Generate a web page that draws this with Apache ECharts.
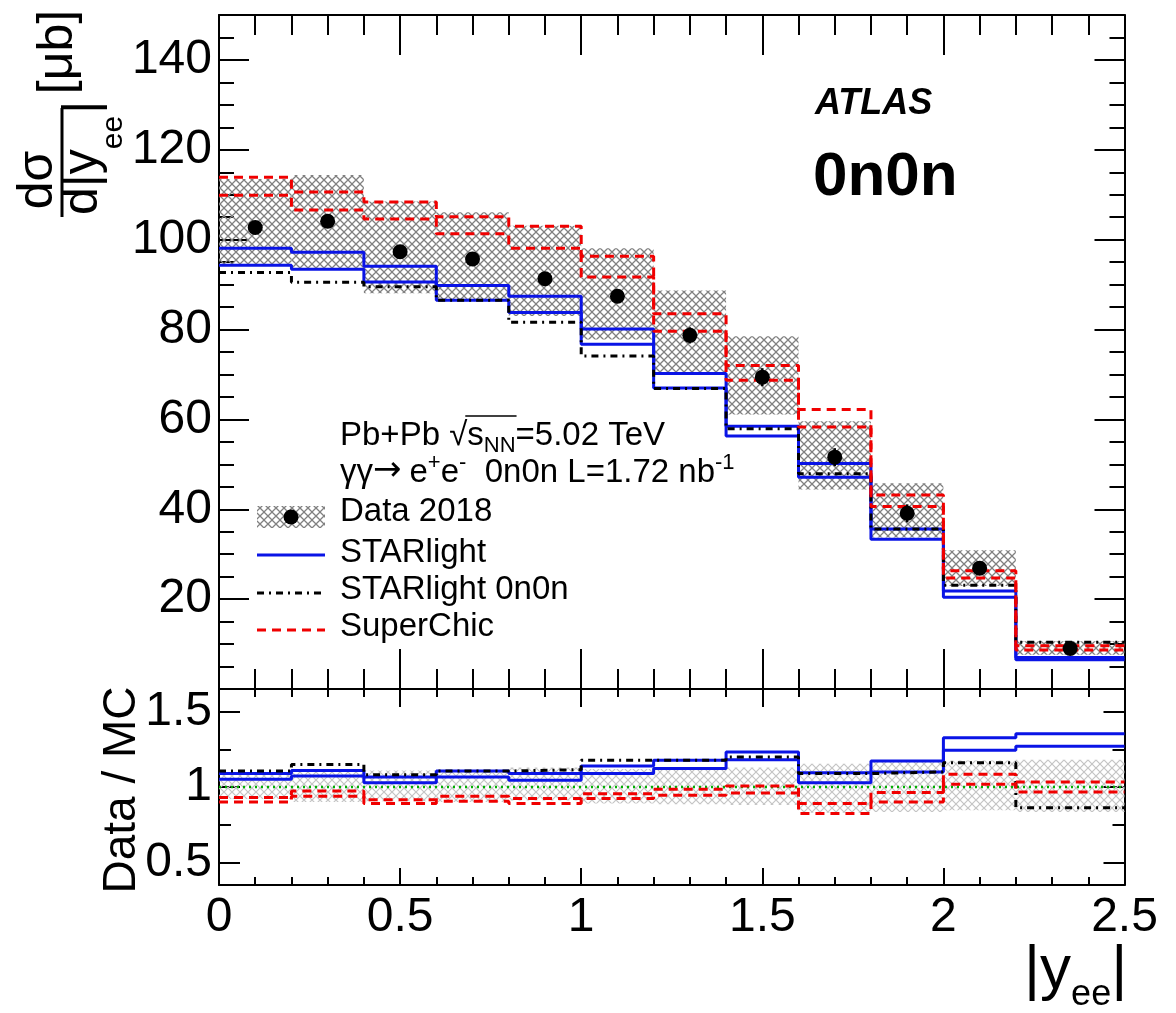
<!DOCTYPE html>
<html><head><meta charset="utf-8">
<script src="https://cdn.jsdelivr.net/npm/echarts@6/dist/echarts.min.js"></script>
<style>html,body{margin:0;padding:0;background:#fff}#c{width:1176px;height:1013px}</style>
</head><body><div id="c"></div>
<script>
const FONT = "'Liberation Sans', Arial, Helvetica, sans-serif";

// ---- data ----
const edges   = [0, 0.2, 0.4, 0.6, 0.8, 1.0, 1.2, 1.4, 1.6, 1.8, 2.0, 2.2, 2.5];
const centers = [0.1, 0.3, 0.5, 0.7, 0.9, 1.1, 1.3, 1.5, 1.7, 1.9, 2.1, 2.35];
const dataVals = [102.7, 104.1, 97.3, 95.7, 91.3, 87.4, 78.7, 69.4, 51.6, 39.1, 26.9, 9.0];
const statErr  = [0.8, 0.8, 0.8, 0.8, 0.9, 1.5, 1.8, 2.0, 2.0, 2.0, 1.2, 0.4];
const sysHi    = [113.5, 114.4, 108.5, 106.1, 103.1, 98.1, 88.7, 78.5, 59.6, 45.8, 30.9, 10.6];
const sysLo    = [94.3, 93.3, 88.1, 86.3, 83.0, 77.8, 70.4, 61.1, 44.4, 33.7, 22.9, 7.6];
const starUp   = [98.1, 97.2, 94.1, 89.8, 87.4, 80.1, 70.2, 58.5, 50.2, 35.6, 21.8, 7.0];
const starLo   = [94.3, 93.4, 90.6, 86.5, 83.8, 76.7, 67.0, 56.3, 47.1, 33.3, 20.4, 6.5];
const star0n0n = [92.7, 90.5, 89.5, 86.5, 81.6, 74.1, 66.9, 57.9, 47.9, 35.6, 23.1, 10.4];
const scUp     = [113.9, 110.6, 108.4, 105.1, 103.0, 96.3, 83.5, 72.0, 62.2, 43.2, 26.3, 9.6];
const scLo     = [109.9, 106.6, 104.6, 101.3, 98.1, 91.7, 79.6, 68.7, 58.3, 40.6, 24.7, 8.7];

// ratio panel (Data / MC)
const rBandHi  = [1.10, 1.10, 1.11, 1.11, 1.13, 1.12, 1.13, 1.13, 1.155, 1.165, 1.175, 1.18];
const rBandLo  = [0.92, 0.90, 0.905, 0.90, 0.91, 0.89, 0.885, 0.88, 0.83, 0.835, 0.845, 0.835];
const rStarUp  = [1.089, 1.11, 1.066, 1.106, 1.089, 1.139, 1.177, 1.232, 1.095, 1.172, 1.327, 1.354];
const rStarLo  = [1.051, 1.073, 1.029, 1.066, 1.044, 1.089, 1.122, 1.181, 1.029, 1.100, 1.243, 1.270];
const r0n0n    = [1.106, 1.15, 1.082, 1.106, 1.115, 1.177, 1.177, 1.199, 1.089, 1.100, 1.161, 0.863];
const rScUp    = [0.93, 0.974, 0.916, 0.938, 0.923, 0.956, 0.985, 1.007, 0.89, 0.963, 1.084, 1.033];
const rScLo    = [0.90, 0.938, 0.89, 0.905, 0.89, 0.923, 0.945, 0.96, 0.824, 0.901, 1.018, 0.967];

// tick labels
const xTickLabels = ['0', '0.5', '1', '1.5', '2', '2.5'];
const yTopLabels = [20, 40, 60, 80, 100, 120, 140];
const yTopMajor = [0, 20, 40, 60, 80, 100, 120, 140];
const yTopMinor = [5,10,15,25,30,35,45,50,55,65,70,75,85,90,95,105,110,115,125,130,135,145];
const yRatMajor = [0.5, 1, 1.5];
const yRatMinor = [0.75, 1.25];

// ---- styling helpers ----
const BLUE = '#0a14e6', RED = '#f00000', BLACK = '#000';
const mctx = document.createElement('canvas').getContext('2d');
function tw(t, s, w, st, fam) { mctx.font = (st||'normal') + ' ' + (w||'normal') + ' ' + s + 'px ' + (fam || FONT); return mctx.measureText(t).width; }
function hatchCanvas(color, size, lw) {
  const c = document.createElement('canvas'); c.width = size; c.height = size;
  const g = c.getContext('2d'); g.strokeStyle = color; g.lineWidth = lw;
  g.beginPath(); g.moveTo(-1, -1); g.lineTo(size + 1, size + 1); g.moveTo(size + 1, -1); g.lineTo(-1, size + 1); g.stroke();
  return c;
}
const hatchDark = { image: hatchCanvas('#808080', 8, 1.3), repeat: 'repeat' };
const hatchLight = { image: hatchCanvas('#c4c4c4', 8, 1.2), repeat: 'repeat' };

function stepData(vals) { return edges.map((e, i) => [e, vals[Math.min(i, vals.length - 1)]]); }
function stepLine(vals, color, type, xi, yi, z) {
  return { type: 'line', xAxisIndex: xi, yAxisIndex: yi, data: stepData(vals), step: 'end', symbol: 'none',
    lineStyle: { color, width: 3, type }, z, silent: true, clip: true };
}
function boxes(lo, hi, fill, xi, yi) {
  return { type: 'custom', xAxisIndex: xi, yAxisIndex: yi, z: 1, silent: true, clip: true,
    data: lo.map((l, i) => [edges[i], edges[i + 1], l, hi[i]]),
    encode: { x: [0, 1], y: [2, 3] },
    renderItem(params, api) {
      const p0 = api.coord([api.value(0), api.value(3)]);
      const p1 = api.coord([api.value(1), api.value(2)]);
      return { type: 'rect', shape: { x: p0[0], y: p0[1], width: p1[0] - p0[0], height: p1[1] - p0[1] }, style: { fill } };
    } };
}

const tickLS = { color: '#000', width: 2 };
function xAx(grid, pos, major, minor, labels) {
  return { type: 'value', gridIndex: grid, position: pos, min: 0, max: 2.5, interval: 0.5,
    axisLine: { show: true, onZero: false, lineStyle: { color: '#000', width: 2 } },
    axisTick: { show: true, inside: true, length: major, lineStyle: tickLS },
    minorTick: { show: true, splitNumber: 5, length: minor, lineStyle: tickLS },
    splitLine: { show: false }, minorSplitLine: { show: false },
    axisLabel: labels ? { show: true, margin: 9, fontSize: 48, fontFamily: FONT, color: '#000',
      formatter: v => xTickLabels[Math.round(v / 0.5)] } : { show: false } };
}
function yAx(grid, pos, min, max, ticks, len, labels, line) {
  return { type: 'value', gridIndex: grid, position: pos, min, max,
    axisLine: { show: line, onZero: false, lineStyle: { color: '#000', width: 2 } },
    axisTick: { show: true, inside: true, length: len, customValues: ticks, lineStyle: tickLS },
    axisLabel: labels ? { show: true, customValues: labels, margin: 7, fontSize: 48, fontFamily: FONT, color: '#000',
      formatter: v => String(v) } : { show: false },
    splitLine: { show: false } };
}

// ---- text helpers ----
function seq(x, b, pieces) {
  const els = []; let cx = x; const pos = [];
  for (const p of pieces) {
    const s = p.s, w = p.w || 'normal', st = p.st || 'normal', fam = p.f || FONT;
    pos.push(cx);
    els.push({ type: 'text', x: cx, y: b + (p.dy || 0) - 0.31 * s, silent: true,
      style: { text: p.t, fontSize: s, fontFamily: fam, fontWeight: w, fontStyle: st, fill: '#000', align: 'left', verticalAlign: 'middle' } });
    cx += tw(p.t, s, w, st, fam) + (p.gap || 0);
    pos.push(cx);
  }
  return { els, pos };
}

const TS = 33;
const l1 = seq(340, 446, [{ t: 'Pb+Pb ', s: TS }, { t: '\u221A', s: TS }, { t: 's', s: TS }, { t: 'NN', s: 22, dy: 7 }, { t: '=5.02 TeV', s: TS }]);
const l2 = seq(340, 483, [{ t: '\u03B3\u03B3', s: TS }, { t: '\u2192', s: 34, dy: -1, gap: 8, f: "'DejaVu Sans', sans-serif" }, { t: 'e', s: TS }, { t: '+', s: 22, dy: -13 }, { t: 'e', s: TS }, { t: '-', s: 22, dy: -13 }, { t: '  0n0n L=1.72 nb', s: TS }, { t: '-1', s: 22, dy: -13 }]);
const overline = { type: 'line', silent: true, shape: { x1: l1.pos[4] - 2, y1: 416, x2: l1.pos[7] + 1, y2: 416 }, style: { stroke: '#000', lineWidth: 1.5 } };

const legTexts = [
  seq(340, 522, [{ t: 'Data 2018', s: TS }]),
  seq(340, 563, [{ t: 'STARlight', s: TS }]),
  seq(340, 600, [{ t: 'STARlight 0n0n', s: TS }]),
  seq(340, 637, [{ t: 'SuperChic', s: TS }])
];
const legendEls = [
  { type: 'rect', silent: true, shape: { x: 257, y: 506, width: 68, height: 22 }, style: { fill: hatchDark } },
  { type: 'circle', silent: true, shape: { cx: 291, cy: 517, r: 7.5 }, style: { fill: '#000' } },
  { type: 'line', silent: true, shape: { x1: 257, y1: 555, x2: 325, y2: 555 }, style: { stroke: BLUE, lineWidth: 3 } },
  { type: 'line', silent: true, shape: { x1: 257, y1: 593, x2: 325, y2: 593 }, style: { stroke: BLACK, lineWidth: 3, lineDash: [7, 5, 2, 5] } },
  { type: 'line', silent: true, shape: { x1: 257, y1: 630, x2: 325, y2: 630 }, style: { stroke: RED, lineWidth: 3, lineDash: [9, 6] } }
];

const atlas = seq(815, 115, [{ t: 'ATLAS', s: 36, w: 'bold', st: 'italic' }]);
const tag = seq(813, 197, [{ t: '0n0n', s: 62, w: 'bold' }]);

// x-axis title |y_ee|
const xt = seq(1024, 990, [{ t: '|y', s: 62 }, { t: 'ee', s: 36, dy: 16 }, { t: '|', s: 62 }]);

// y-axis title (rotated group): local (lx, ly) -> screen (ly, 217 - lx)
function ltext(t, lx, ly, s, align) {
  return { type: 'text', x: lx, y: ly, silent: true,
    style: { text: t, fontSize: s, fontFamily: FONT, fill: '#000', align: align || 'left', verticalAlign: 'middle' } };
}
const dylw = tw('d|y', 50);
const yTitle = { type: 'group', x: 0, y: 217, rotation: Math.PI / 2, silent: true, children: [
  ltext('d\u03C3', 37, 38, 50, 'center'),
  { type: 'line', shape: { x1: 0, y1: 62, x2: 109, y2: 62 }, style: { stroke: '#000', lineWidth: 3 } },
  ltext('d|y', 2, 83, 50),
  ltext('ee', 2 + dylw, 114, 30),
  ltext('|', 2 + dylw + tw('ee', 30) + 2, 83, 50),
  ltext('[\u03BCb]', 165, 58, 50, 'center')
] };
const rTitle = { type: 'group', x: 0, y: 892, rotation: Math.PI / 2, silent: true, children: [
  ltext('Data / MC', 102, 122, 46, 'center')
] };

// ---- chart ----
const chart = echarts.init(document.getElementById('c'), null, { renderer: 'canvas' });
const option = {
  animation: false,
  backgroundColor: '#fff',
  grid: [
    { left: 219, top: 15, width: 905.5, height: 674 },
    { left: 219, top: 689, width: 905.5, height: 196 }
  ],
  xAxis: [
    xAx(0, 'bottom', 40, 20, false),
    xAx(0, 'top', 40, 20, false),
    xAx(1, 'bottom', 17, 8, true),
    xAx(1, 'top', 18, 8, false)
  ],
  yAxis: [
    yAx(0, 'left', 0, 150, yTopMajor, 30, yTopLabels, true),
    yAx(0, 'right', 0, 150, yTopMajor, 30, null, true),
    yAx(0, 'left', 0, 150, yTopMinor, 15, null, false),
    yAx(0, 'right', 0, 150, yTopMinor, 15, null, false),
    yAx(1, 'left', 0.35, 1.65, yRatMajor, 21, yRatMajor, true),
    yAx(1, 'right', 0.35, 1.65, yRatMajor, 21, null, true),
    yAx(1, 'left', 0.35, 1.65, yRatMinor, 12, null, false),
    yAx(1, 'right', 0.35, 1.65, yRatMinor, 12, null, false)
  ],
  series: [
    boxes(sysLo, sysHi, hatchDark, 0, 0),
    stepLine(starUp, BLUE, 'solid', 0, 0, 3),
    stepLine(starLo, BLUE, 'solid', 0, 0, 3),
    stepLine(star0n0n, BLACK, [7, 5, 2, 5], 0, 0, 4),
    stepLine(scUp, RED, [9, 6], 0, 0, 5),
    stepLine(scLo, RED, [9, 6], 0, 0, 5),
    { type: 'custom', xAxisIndex: 0, yAxisIndex: 0, z: 6, silent: true,
      data: centers.map((c, i) => [c, dataVals[i] - statErr[i], dataVals[i] + statErr[i]]),
      encode: { x: 0, y: [1, 2] },
      renderItem(params, api) {
        const a = api.coord([api.value(0), api.value(1)]), b = api.coord([api.value(0), api.value(2)]);
        return { type: 'line', shape: { x1: a[0], y1: a[1], x2: b[0], y2: b[1] }, style: { stroke: '#000', lineWidth: 2.5 } };
      } },
    { type: 'scatter', xAxisIndex: 0, yAxisIndex: 0, z: 7, silent: true, symbol: 'circle', symbolSize: 15,
      itemStyle: { color: '#000', opacity: 1 }, data: centers.map((c, i) => [c, dataVals[i]]) },

    boxes(rBandLo, rBandHi, hatchLight, 2, 4),
    { type: 'line', xAxisIndex: 2, yAxisIndex: 4, z: 2, silent: true, symbol: 'none', data: [[0, 1], [2.5, 1]],
      lineStyle: { color: '#00b000', width: 2.5, type: [2, 4] } },
    stepLine(rStarUp, BLUE, 'solid', 2, 4, 3),
    stepLine(rStarLo, BLUE, 'solid', 2, 4, 3),
    stepLine(r0n0n, BLACK, [7, 5, 2, 5], 2, 4, 4),
    stepLine(rScUp, RED, [9, 6], 2, 4, 5),
    stepLine(rScLo, RED, [9, 6], 2, 4, 5)
  ],
  graphic: { elements: [].concat(
    l1.els, l2.els, [overline],
    legendEls, ...legTexts.map(o => o.els),
    atlas.els, tag.els, xt.els, [yTitle, rTitle]
  ) }
};
chart.setOption(option);
</script></body></html>
